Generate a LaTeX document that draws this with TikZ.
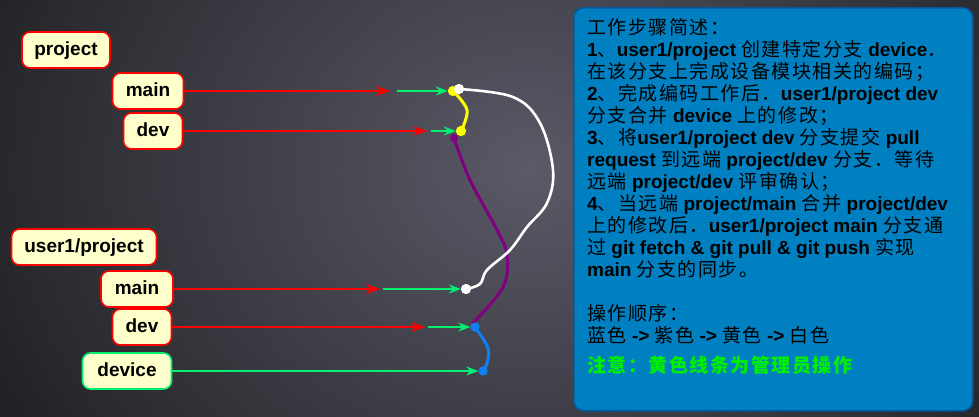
\documentclass[tikz,border=0pt]{standalone}
\usepackage{fontspec}
\setmainfont{Liberation Sans}
\newfontfamily\cjk[LetterSpace=8]{Noto Sans CJK SC}
\usetikzlibrary{arrows.meta}
\newcommand\zh[1]{{\cjk\mdseries #1}}
\newcommand\zhb[1]{{\cjk\bfseries #1}}
\definecolor{bgdark}{HTML}{1D1D20}
\definecolor{bglight}{HTML}{5A5A68}
\definecolor{cream}{HTML}{FFFFCC}
\definecolor{gitred}{HTML}{FF0000}
\definecolor{gitgreen}{HTML}{00F070}
\definecolor{panelblue}{HTML}{0080C0}
\definecolor{paneledge}{HTML}{0058A0}
\definecolor{purp}{HTML}{800080}
\definecolor{blu}{HTML}{1080F0}
\definecolor{notegreen}{HTML}{00F000}
\definecolor{yel}{HTML}{FFFF00}
\tikzset{
  lbl/.style={draw=gitred, fill=cream, line width=1.6pt, rounded corners=8pt,
    font=\bfseries\fontsize{19}{22}\selectfont, inner sep=0pt,
    minimum height=36pt, text height=14pt, text depth=4pt},
  redline/.style={draw=gitred, line width=1.3pt, -{Stealth[length=14pt,width=10pt]}},
  greenline/.style={draw=gitgreen, line width=1.3pt, -{Stealth[length=12pt,width=9pt]}},
  commit/.style={circle, inner sep=0pt, minimum size=10pt},
  curve/.style={line width=3pt, line cap=round, line join=round},
  txt/.style={anchor=base west, inner sep=0pt, font=\bfseries\fontsize{19}{22}\selectfont}
}
\begin{document}
\begin{tikzpicture}[x=1pt,y=-1pt]
\useasboundingbox (0,0) rectangle (979,416);
\fill[bgdark] (0,0) rectangle (979,416);
\begin{scope}
\clip (0,0) rectangle (979,416);
\shade[inner color=bglight, outer color=bgdark] (530,170) ellipse (640pt and 540pt);
\end{scope}

% branch labels
\node[lbl, minimum width=88pt] (project) at (66,50) {project};
\node[lbl, minimum width=71pt] (pmain) at (148,91) {main};
\node[lbl, minimum width=59pt] (pdev) at (153,131) {dev};
\node[lbl, minimum width=145pt] (user1) at (84,247) {user1/project};
\node[lbl, minimum width=72pt] (umain) at (137,289) {main};
\node[lbl, minimum width=59pt] (udev) at (142,327) {dev};
\node[lbl, draw=gitgreen, minimum width=89pt] (device) at (127,371) {device};

% commits
\node[commit, fill=yel] (y1) at (453,91) {};
\node[commit, fill=yel] (y2) at (461,131) {};
\node[commit, fill=purp, minimum size=8pt] (p1) at (454,138) {};
\node[commit, fill=white] (w2) at (466,289) {};
\node[commit, fill=blu, minimum size=9pt] (b1) at (475,327) {};
\node[commit, fill=blu, minimum size=9pt] (b2) at (483,371) {};

% arrow waypoints
\coordinate (r1) at (390,91);  \coordinate (g1) at (397,91);
\coordinate (r2) at (427,131); \coordinate (g2) at (431,131);
\coordinate (r3) at (380,289); \coordinate (g3) at (383,289);
\coordinate (r4) at (425,327); \coordinate (g4) at (428,327);

\draw[redline] (pmain.east) -- (r1);
\draw[greenline] (g1) -- (y1.west);
\draw[redline] (pdev.east) -- (r2);
\draw[greenline] (g2) -- (y2.west);
\draw[redline] (umain.east) -- (r3);
\draw[greenline] (g3) -- (w2.west);
\draw[redline] (udev.east) -- (r4);
\draw[greenline] (g4) -- (b1.west);
\draw[greenline] (device.east) -- (b2.west);

% history curves
\draw[curve, purp] plot[smooth, tension=0.6] coordinates {(p1.center) (470,180) (497,230) (507,255) (503,287) (473,323)};
\draw[curve, yel] plot[smooth, tension=0.6] coordinates {(y1.center) (467,110) (y2.center)};
\draw[curve, blu] plot[smooth, tension=0.6] coordinates {(b1.center) (488,348) (487,363) (b2.center)};
\node[commit, fill=white] (w1) at (459,89) {};
\draw[curve, white, line width=2.6pt] plot[smooth, tension=0.6] coordinates {(w1.center) (513,97) (540,123) (553,170) (547,203) (527,227) (510,250) (487,270) (480,284) (w2.center)};
\node[commit, fill=white] at (w2) {};
\node[commit, fill=yel] at (y1) {};
\node[commit, fill=yel] at (y2) {};
\node[commit, fill=blu, minimum size=9pt] at (b1) {};
\node[commit, fill=blu, minimum size=9pt] at (b2) {};
\node[commit, fill=white] at (w1) {};

% panel
\node[draw=paneledge, fill=panelblue, line width=1.5pt, rounded corners=10pt,
  minimum width=399pt, minimum height=403pt, anchor=north west, inner sep=0pt] (panel) at (573,7) {};
\node[txt] (t1) at (587,34) {\zh{工作步骤简述：}};
\node[txt] (t2) at (587,56) {1\zh{、}user1/project \zh{创建特定分支} device\zh{．}};
\node[txt] (t3) at (587,78) {\zh{在该分支上完成设备模块相关的编码；}};
\node[txt] (t4) at (587,100) {2\zh{、完成编码工作后．}user1/project dev};
\node[txt] (t5) at (587,122) {\zh{分支合并} device \zh{上的修改；}};
\node[txt] (t6) at (587,144) {3\zh{、将}user1/project dev \zh{分支提交} pull};
\node[txt] (t7) at (587,166) {request \zh{到远端} project/dev \zh{分支．等待}};
\node[txt] (t8) at (587,188) {\zh{远端} project/dev \zh{评审确认；}};
\node[txt] (t9) at (587,210) {4\zh{、当远端} project/main \zh{合并} project/dev};
\node[txt] (t10) at (587,232) {\zh{上的修改后．}user1/project main \zh{分支通}};
\node[txt] (t11) at (587,254) {\zh{过} git fetch \& git pull \& git push \zh{实现}};
\node[txt] (t12) at (587,276) {main \zh{分支的同步。}};
\node[txt] (t13) at (587,320) {\zh{操作顺序：}};
\node[txt] (t14) at (587,342) {\zh{蓝色} -> \zh{紫色} -> \zh{黄色} -> \zh{白色}};
\node[txt, text=notegreen] (t15) at (587,372) {\zhb{注意：黄色线条为管理员操作}};
\end{tikzpicture}
\end{document}
